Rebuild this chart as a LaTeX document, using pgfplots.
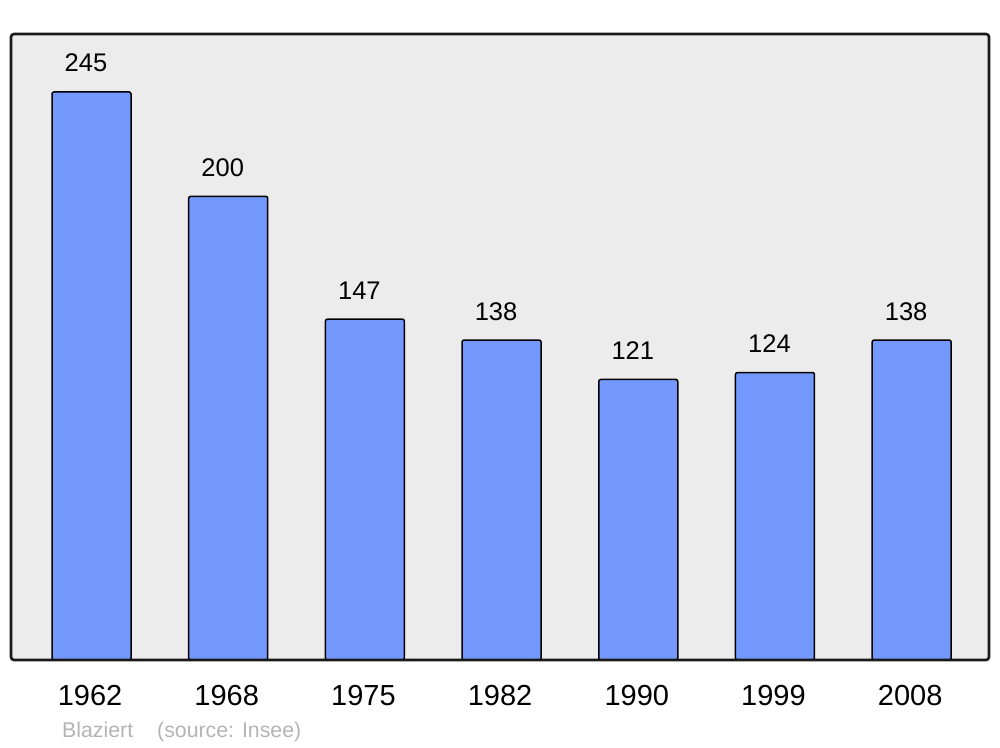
\documentclass[border=0pt]{standalone}
\usepackage{pgfplots}
\pgfplotsset{compat=1.18}
\usepackage{fontspec}
\setmainfont{Liberation Sans}
\definecolor{barblue}{RGB}{115,153,255}
\definecolor{bggray}{RGB}{236,236,236}
\definecolor{footgray}{RGB}{180,180,180}
\begin{document}
\begin{tikzpicture}
\useasboundingbox (0,0) rectangle (1000pt,747pt);
\begin{axis}[
  at={(11pt,87pt)}, anchor=south west,
  width=978pt, height=626pt, scale only axis,
  xmin=-0.589, xmax=6.566, ymin=0, ymax=270,
  axis lines=none,
  xtick={0,1,2,3,4,5,6},
  xticklabels={1962,1968,1975,1982,1990,1999,2008},
  ytick=\empty,
  /pgf/number format/assume math mode=true,
  clip=false,
  ybar, bar width=79pt, bar shift=0pt,
  nodes near coords,
  every node near coord/.append style={font=\fontsize{25.5pt}{30pt}\selectfont, inner sep=0pt, yshift=19pt, xshift=-5.5pt, anchor=south},
]
\fill[bggray] (rel axis cs:0,0) rectangle (rel axis cs:1,1);
\addplot[fill=barblue, draw=black, line width=1.5pt, rounded corners=2pt] coordinates {
(0,245) (1,200) (2,147) (3,138) (4,121) (5,124) (6,138)};
\draw[line width=2.6pt, rounded corners=3pt, black!90] (rel axis cs:0,0) rectangle (rel axis cs:1,1);
\foreach \i/\lab in {0/1962,1/1968,2/1975,3/1982,4/1990,5/1999,6/2008} {
  \edef\tmp{\noexpand\node[anchor=base, inner sep=0pt, font=\noexpand\fontsize{29pt}{33pt}\noexpand\selectfont] at (axis cs:\i,0) [yshift=-45pt, xshift=-1.5pt] {\lab};}
  \tmp
}
\end{axis}
\node[anchor=base west, inner sep=0pt, text=footgray, font=\fontsize{21.3pt}{25pt}\selectfont] at (62pt,10pt) {Blaziert\hspace{24pt}(source: Insee)};
\end{tikzpicture}
\end{document}
